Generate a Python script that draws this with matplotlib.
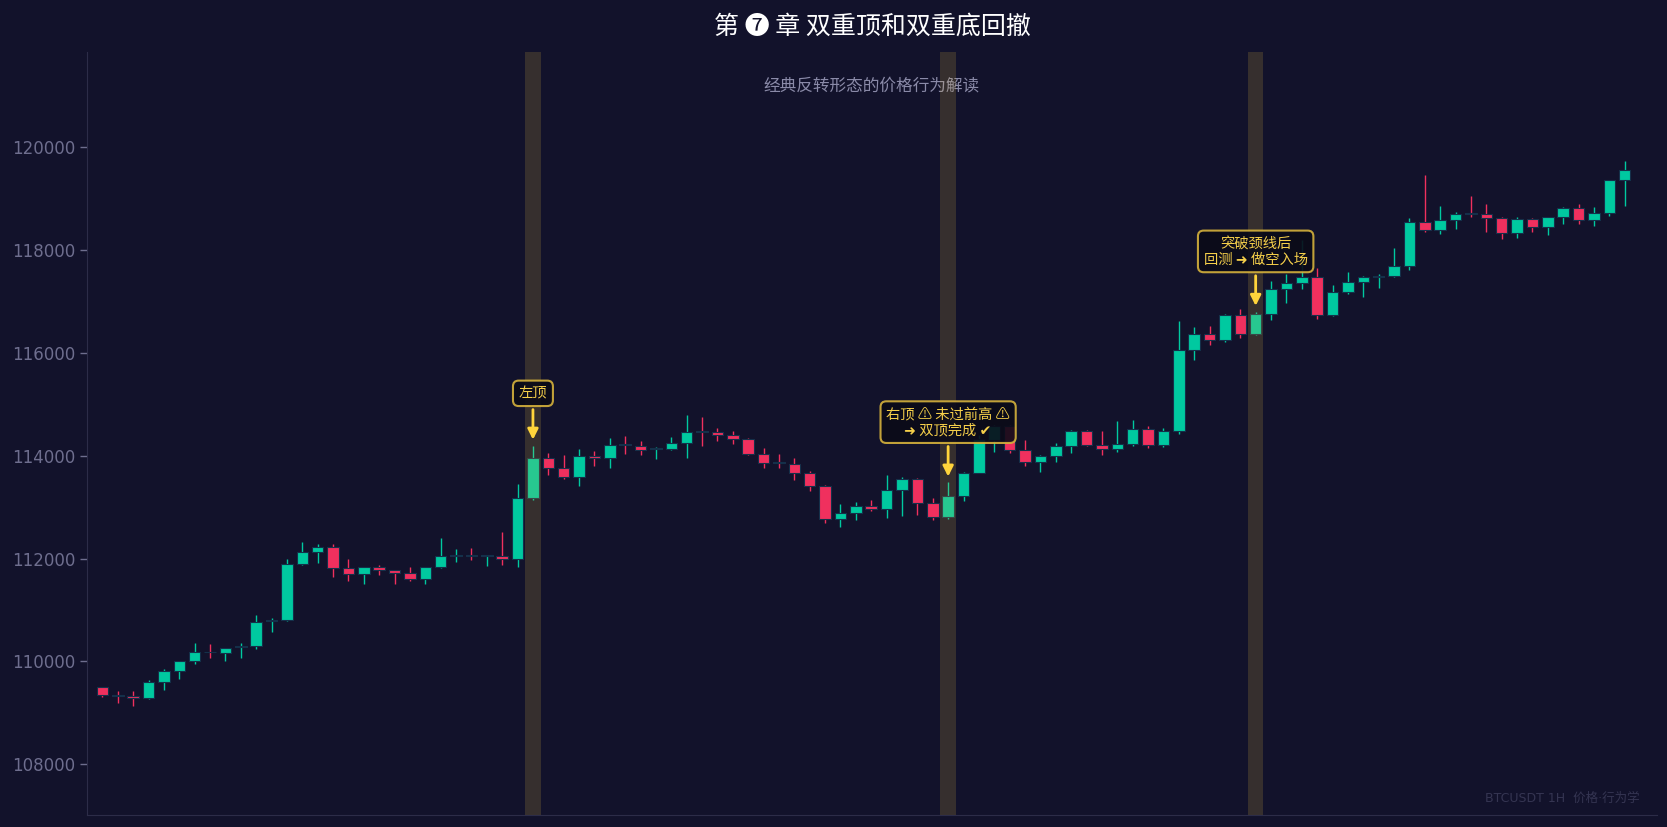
import matplotlib
matplotlib.use("Agg")
import matplotlib.pyplot as plt
import numpy as np

# ---------------- data ----------------
opens = [109503, 109345, 109328, 109289, 109600, 109813, 110007, 110185, 110162, 110275,
         110298, 110780, 110803, 111890, 112123, 112220, 111812, 111696, 111832, 111774,
         111715, 111599, 111832, 112050, 112062, 112050, 112058, 111987, 113171, 113967,
         113754, 113598, 114006, 113967, 114225, 114200, 114130, 114142, 114259, 114475,
         114472, 114414, 114337, 114045, 113875, 113851, 113676, 113423, 112763, 112880,
         113016, 112957, 113345, 113559, 113074, 112802, 113210, 113676, 114317, 114589,
         114122, 113889, 114006, 114200, 114492, 114220, 114142, 114239, 114530, 114220,
         114492, 116068, 116379, 116255, 116744, 116375, 116764, 117249, 117366, 117483,
         116744, 117191, 117386, 117480, 117502, 117697, 118550, 118395, 118589, 118712,
         118706, 118628, 118337, 118609, 118453, 118648, 118823, 118589, 118725, 119366]
highs = [109510, 109425, 109425, 109638, 109852, 110010, 110357, 110337, 110265, 110357,
         110900, 110842, 111987, 112317, 112278, 112278, 111987, 111835, 111870, 111780,
         111832, 111835, 112395, 112181, 112200, 112065, 112511, 113462, 114200, 114064,
         114025, 114142, 114103, 114356, 114395, 114298, 114175, 114375, 114802, 114763,
         114550, 114492, 114340, 114161, 114045, 113967, 113715, 113425, 113054, 113093,
         113132, 113637, 113598, 113560, 113171, 113482, 113680, 114400, 114600, 114600,
         114317, 114010, 114259, 114511, 114511, 114492, 114686, 114705, 114589, 114550,
         116628, 116511, 116530, 116764, 116861, 116803, 117405, 117541, 118200, 117658,
         117327, 117580, 117502, 117541, 118046, 118628, 119463, 118861, 118745, 119055,
         118900, 118640, 118648, 118628, 118650, 118842, 118900, 118842, 119370, 119735]
lows = [109315, 109198, 109134, 109270, 109444, 109658, 109949, 110065, 110007, 110065,
        110240, 110570, 110784, 111870, 111909, 111638, 111560, 111502, 111676, 111502,
        111560, 111502, 111812, 111929, 111968, 111850, 111870, 111832, 113132, 113618,
        113540, 113404, 113812, 113773, 114045, 114025, 113948, 114122, 113967, 114200,
        114298, 114239, 114025, 113773, 113773, 113521, 113307, 112685, 112608, 112744,
        112918, 112782, 112821, 112841, 112744, 112763, 113113, 113660, 114070, 114060,
        113812, 113695, 113889, 114064, 114200, 114025, 114084, 114200, 114161, 114181,
        114433, 115872, 116152, 116214, 116297, 116355, 116647, 116977, 117249, 116667,
        116725, 117152, 117094, 117269, 117483, 117619, 118356, 118317, 118414, 118648,
        118356, 118220, 118239, 118356, 118298, 118512, 118512, 118473, 118667, 118861]
closes = [109347, 109335, 109289, 109600, 109813, 110007, 110182, 110175, 110260, 110285,
          110764, 110790, 111890, 112123, 112220, 111812, 111696, 111832, 111774, 111715,
          111599, 111832, 112045, 112060, 112052, 112060, 111987, 113171, 113967, 113754,
          113598, 114006, 113967, 114220, 114215, 114122, 114136, 114259, 114472, 114465,
          114414, 114337, 114045, 113870, 113865, 113676, 113423, 112763, 112880, 113016,
          112957, 113345, 113559, 113074, 112802, 113210, 113676, 114320, 114589, 114122,
          113889, 114006, 114200, 114492, 114220, 114142, 114239, 114530, 114220, 114492,
          116068, 116379, 116255, 116744, 116375, 116764, 117249, 117366, 117483, 116744,
          117191, 117386, 117483, 117495, 117697, 118550, 118395, 118589, 118706, 118700,
          118628, 118337, 118609, 118453, 118648, 118823, 118589, 118725, 119366, 119560]

highlight_idx = [28, 55, 75]
highlight_labels = ["左顶",
                    "右顶 ⚠ 未过前高 ⚠\n➜ 双顶完成 ✔",
                    "突破颈线后\n回测 ➜ 做空入场"]

title_text = "第 ❼ 章 双重顶和双重底回撤"
subtitle_text = "经典反转形态的价格行为解读"
watermark_text = "BTCUSDT 1H  价格·行为学"

# ---------------- style ----------------
BG = "#12122b"
UP = "#00c9a0"
DOWN = "#f0305e"
GOLD = "#f5c842"
ARROW = "#ffd43b"
FAM = ['Noto Sans CJK SC', 'DejaVu Sans']
plt.rcParams['font.family'] = FAM

fig = plt.figure(figsize=(16.67, 8.27), dpi=100, facecolor=BG)
ax = fig.add_axes([0.0522, 0.0145, 0.9418, 0.9226])
ax.set_facecolor(BG)

o = np.array(opens, float)
h = np.array(highs, float)
l = np.array(lows, float)
c = np.array(closes, float)
x = np.arange(len(o))
up = c >= o
cols = np.where(up, UP, DOWN)

# wicks
ax.vlines(x, l, h, colors=cols, linewidth=1.0, zorder=2)
# bodies
bottoms = np.minimum(o, c)
heights = np.maximum(np.abs(c - o), 18)
ax.bar(x, heights, bottom=bottoms, width=0.75, color=cols,
       edgecolor="#14304a", linewidth=0.8, zorder=3)

# highlight bands drawn on top
for i in highlight_idx:
    ax.axvspan(i - 0.5, i + 0.5, color=GOLD, alpha=0.16, lw=0, zorder=4)

# annotations
for i, txt in zip(highlight_idx, highlight_labels):
    ax.annotate(txt, xy=(i, h[i] + 60), xytext=(i, h[i] + 880),
                ha='center', va='bottom', fontsize=10.3, color="#f5cf4a",
                family=FAM,
                bbox=dict(boxstyle="round,pad=0.4", fc="#0b0b18", ec="#d6b23c",
                          lw=1.5, alpha=0.9),
                arrowprops=dict(arrowstyle="-|>,head_length=0.6,head_width=0.3",
                                color=ARROW, lw=2),
                zorder=6)

lo, hi = l.min(), h.max()
rng = hi - lo
ax.set_ylim(lo - 0.2 * rng, hi + 0.2 * rng)
ax.set_xlim(-1, 101.1)

ax.set_yticks([108000, 110000, 112000, 114000, 116000, 118000, 120000])
ax.set_xticks([])
for lab in ax.get_yticklabels():
    lab.set_family('DejaVu Sans')
ax.tick_params(axis='y', colors="#6e6e8e", labelsize=12, length=5, width=1)
for s in ['top', 'right']:
    ax.spines[s].set_visible(False)
for s in ['left', 'bottom']:
    ax.spines[s].set_color("#2c2c48")

fig.text(0.5231, 0.968, title_text, ha='center', va='center', color='white',
         fontsize=18, fontweight='medium', family=FAM)
ax.text(0.5, 0.956, subtitle_text, transform=ax.transAxes, ha='center', va='center',
        color="#8a8aa8", fontsize=12)
ax.text(0.989, 0.013, watermark_text, transform=ax.transAxes, ha='right', va='bottom',
        color="#353552", fontsize=9, family=['DejaVu Sans', 'Noto Sans CJK SC'])

fig.savefig("out.png", dpi=100, facecolor=BG)
